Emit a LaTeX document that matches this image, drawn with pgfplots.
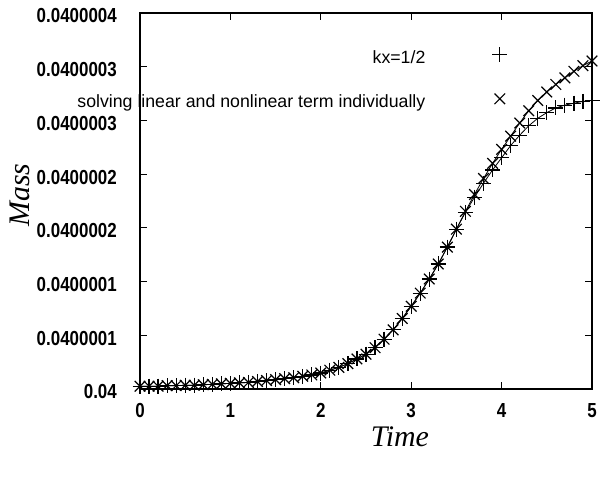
\documentclass[border=0pt]{standalone}
\usepackage{pgfplots}
\pgfplotsset{compat=1.18}
\usepackage{graphicx}
\usepackage{fontspec}
\setmainfont{Liberation Sans}
\newfontfamily\seriffont{Liberation Serif}
\newcommand\tl[1]{\scalebox{1}[1.2]{\bfseries #1}}

% mass is stored as (M - 0.04) * 1e7
\pgfplotstableread{
t m
0.0 0.03
0.1 0.03
0.2 0.03
0.3 0.035
0.4 0.035
0.5 0.04
0.6 0.04
0.7 0.045
0.8 0.05
0.9 0.055
1.0 0.06
1.1 0.065
1.2 0.07
1.3 0.08
1.4 0.09
1.5 0.10
1.6 0.11
1.7 0.12
1.8 0.135
1.9 0.15
2.0 0.17
2.1 0.20
2.2 0.23
2.3 0.27
2.4 0.32
2.5 0.37
2.6 0.44
2.7 0.53
2.8 0.63
2.9 0.75
3.0 0.88
3.1 1.02
3.2 1.17
3.3 1.33
3.4 1.51
3.5 1.70
3.6 1.88
3.7 2.04
3.8 2.19
3.9 2.33
4.0 2.46
4.1 2.59
4.2 2.70
4.3 2.80
4.4 2.88
4.5 2.94
4.6 2.99
4.7 3.02
4.8 3.04
4.9 3.06
5.0 3.07
}\kxhalf

\pgfplotstableread{
t m
0.0 0.03
0.1 0.03
0.2 0.03
0.3 0.035
0.4 0.035
0.5 0.04
0.6 0.04
0.7 0.045
0.8 0.05
0.9 0.055
1.0 0.06
1.1 0.065
1.2 0.07
1.3 0.08
1.4 0.09
1.5 0.10
1.6 0.11
1.7 0.12
1.8 0.135
1.9 0.15
2.0 0.17
2.1 0.20
2.2 0.23
2.3 0.27
2.4 0.32
2.5 0.37
2.6 0.44
2.7 0.53
2.8 0.63
2.9 0.75
3.0 0.88
3.1 1.02
3.2 1.17
3.3 1.33
3.4 1.51
3.5 1.70
3.6 1.89
3.7 2.07
3.8 2.24
3.9 2.40
4.0 2.55
4.1 2.69
4.2 2.83
4.3 2.96
4.4 3.07
4.5 3.16
4.6 3.24
4.7 3.31
4.8 3.38
4.9 3.44
5.0 3.49
}\splitting

\begin{document}
\begin{tikzpicture}
\useasboundingbox (0,0) rectangle (602bp,477bp);
\begin{axis}[
    at={(140bp,88bp)}, anchor=south west,
    scale only axis,
    width=452bp, height=376bp,
    xmin=0, xmax=5,
    ymin=0, ymax=4,
    clip=false,
    axis line style={line width=1.3bp},
    tick style={line width=1.1bp, black},
    tick align=inside,
    major tick length=7bp,
    xtick={0,1,2,3,4,5},
    xticklabels={\tl{0},\tl{1},\tl{2},\tl{3},\tl{4},\tl{5}},
    ytick={0,0.5714,1.1429,1.7143,2.2857,2.8571,3.4286,4},
    yticklabels={\tl{0.04},\tl{0.0400001},\tl{0.0400001},\tl{0.0400002},\tl{0.0400002},\tl{0.0400003},\tl{0.0400003},\tl{0.0400004}},
    ticklabel style={font=\fontsize{17}{19}\selectfont, inner sep=0pt},
    yticklabel style={xshift=-23bp, yshift=-3bp},
    xticklabel style={yshift=-14bp},
    xlabel={\seriffont\itshape Time},
    ylabel={\seriffont\itshape Mass},
    xlabel style={font=\fontsize{30}{32}\selectfont, at={(axis description cs:0.575,0)}, anchor=north, inner sep=0pt, yshift=-38bp},
    ylabel style={font=\fontsize{30}{32}\selectfont, at={(axis description cs:-0.265,0.516)}, anchor=center, inner sep=0pt},
    legend plot pos=right,
    legend cell align=right,
    legend style={draw=none, fill=none, at={(axis description cs:0.813,0.91)}, anchor=north east,
        font=\fontsize{17.8}{20}\selectfont, inner sep=0pt, row sep=26bp},
    legend image code/.code={\path (-72bp,0); \draw[#1] plot coordinates {(0bp,3bp)};},
]
\addplot[black, line width=0.8bp, mark=+, mark size=7.5bp, mark options={line width=1.2bp}] table[x=t,y=m] {\kxhalf};
\addlegendentry{kx=1/2}
\addplot[black, line width=0.8bp, mark=x, mark size=7.5bp, mark options={line width=1.2bp}] table[x=t,y=m] {\splitting};
\addlegendentry{solving linear and nonlinear term individually}
\end{axis}
\end{tikzpicture}
\end{document}
